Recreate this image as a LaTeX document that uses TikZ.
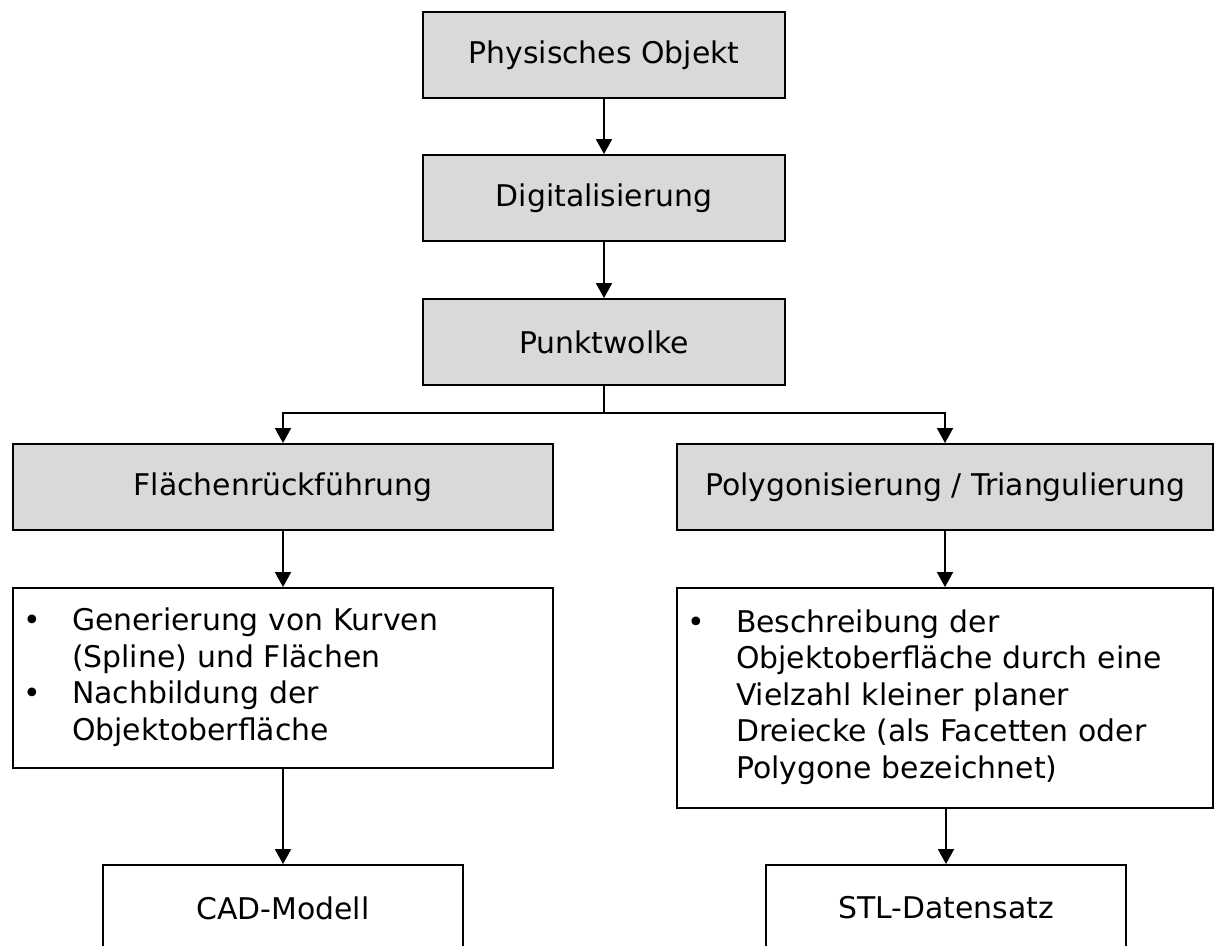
\documentclass[tikz,border=0pt]{standalone}
\usepackage{fontspec}
\setmainfont{DejaVu Sans}
\usepackage{xcolor}
\usepackage{tikz}
\usetikzlibrary{positioning,arrows.meta}

\definecolor{boxgray}{HTML}{D9D9D9}

\tikzset{
  stepbox/.style={draw, line width=1.1pt, fill=boxgray, minimum height=1.72cm},
  plainbox/.style={draw, line width=1.1pt, fill=white, minimum height=1.72cm},
  listbox/.style={draw, line width=1.1pt, fill=white, inner xsep=0pt, align=left,
    font=\fontsize{17}{20.8}\selectfont},
  flow/.style={line width=1.1pt, -{Triangle[length=0.3cm,width=0.32cm]}}
}

\newcommand{\bul}{\hspace*{0.2cm}\textbullet}

\begin{document}
\begin{tikzpicture}[x=0.02cm, y=-0.02cm, font=\fontsize{17}{20.8}\selectfont]
    \useasboundingbox (0,0) rectangle (1215,946);

    % 
    \node[stepbox, minimum width=7.24cm] (objekt) at (604,55) {Physisches Objekt};
    \node[stepbox, minimum width=7.24cm] (digital) at (604,198) {Digitalisierung};
    \node[stepbox, minimum width=7.24cm] (wolke) at (604,342) {Punktwolke};

    % 
    \node[stepbox, minimum width=10.8cm] (flaeche) at (283,487) {Flächenrückführung};
    \node[stepbox, minimum width=10.72cm] (polygon) at (945,487) {Polygonisierung / Triangulierung};

    % 
    \node[listbox, text width=10.8cm, minimum height=3.6cm] (kurven) at (283,678) {%
      \begin{tabular}{@{}p{1.18cm}@{}l@{}}
        \bul & Generierung von Kurven\\
             & (Spline) und Flächen\\
        \bul & Nachbildung der\\
             & Objektoberfläche
      \end{tabular}};
    \node[listbox, text width=10.72cm, minimum height=4.4cm] (dreiecke) at (945,698) {%
      \begin{tabular}{@{}p{1.18cm}@{}l@{}}
        \bul & Beschreibung der\\
             & Objektoberfläche durch eine\\
             & Vielzahl kleiner planer\\
             & Dreiecke (als Facetten oder\\
             & Polygone bezeichnet)
      \end{tabular}};

    % 
    \node[plainbox, minimum width=7.2cm] (cad) at (283,908) {CAD-Modell};
    \node[plainbox, minimum width=7.2cm] (stl) at (946,908) {STL-Datensatz};

    % 
    \foreach \a/\b in {objekt/digital, digital/wolke, flaeche/kurven, polygon/dreiecke} {
        \draw[flow] (\a) -- (\b);
    }
    \draw[flow] (kurven.south -| cad) -- (cad);
    \draw[flow] (dreiecke.south -| stl) -- (stl);

    % 
    \coordinate[below=0.54cm of wolke.south] (split);
    \draw[flow] (wolke.south) -- (split) -| (flaeche);
    \draw[flow] (split) -| (polygon);
\end{tikzpicture}
\end{document}
